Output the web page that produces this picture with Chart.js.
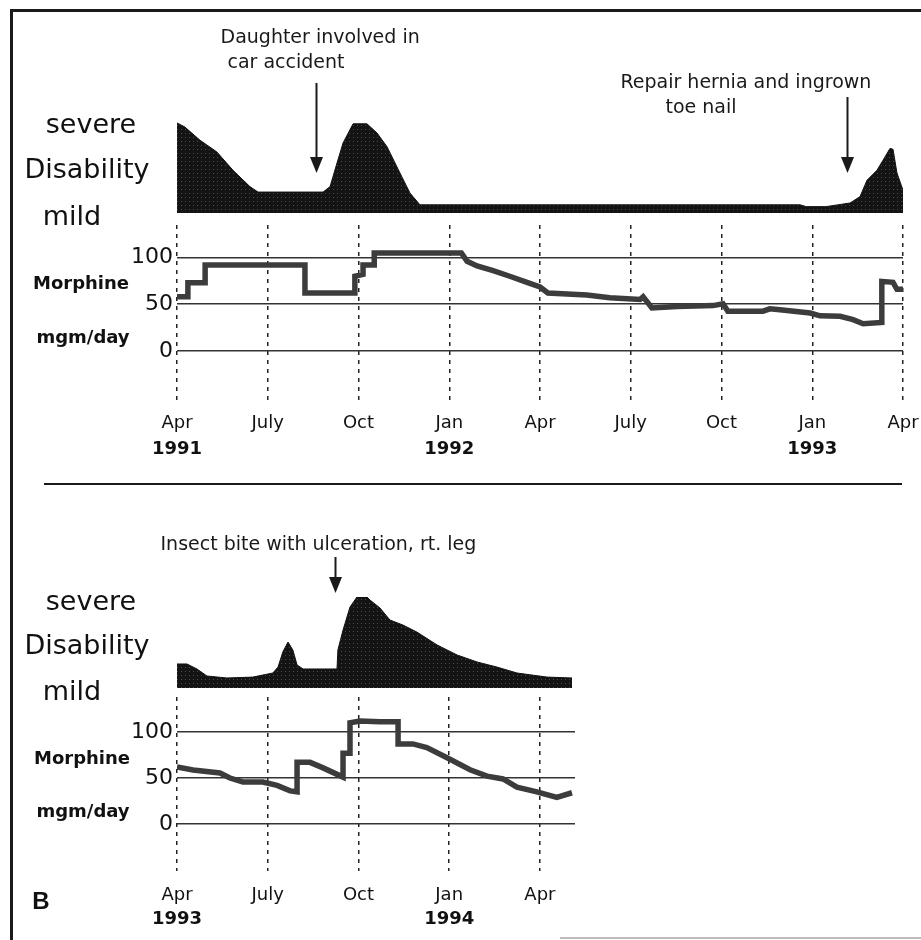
<!DOCTYPE html>
<html>
<head>
<meta charset="utf-8">
<script src="https://cdn.jsdelivr.net/npm/chart.js@4.4.1/dist/chart.umd.min.js"></script>
<style>
  body { margin: 0; background: #fff; }
  #page { position: relative; width: 921px; height: 940px; overflow: hidden; background: #fff; font-family: "DejaVu Sans", sans-serif; color: #111; }
  canvas { position: absolute; left: 0; }
  .lbl { position: absolute; transform: translate(-50%, -50%); white-space: nowrap; line-height: 1; }
  .big { font-size: 27px; }
  .unit { font-size: 18px; font-weight: bold; }
  .rule { position: absolute; background: #1a1a1a; }
</style>
</head>
<body>
<div id="page">
  <div class="rule" style="left:10px; top:9px; width:911px; height:3px;"></div>
  <div class="rule" style="left:10px; top:9px; width:3px; height:931px;"></div>
  <div class="rule" style="left:44px; top:483px; width:858px; height:2px;"></div>
  <div class="rule" style="left:560px; top:937px; width:361px; height:2px; background:#bbb;"></div>

  <canvas id="dis1" width="921" height="201" style="top:12px"></canvas>
  <canvas id="mor1" width="921" height="251" style="top:215px"></canvas>
  <canvas id="dis2" width="921" height="198" style="top:490px"></canvas>
  <canvas id="mor2" width="921" height="245" style="top:690px"></canvas>

  <div class="lbl big" style="left:91px; top:123px;">severe</div>
  <div class="lbl big" style="left:87px; top:168px;">Disability</div>
  <div class="lbl big" style="left:72px; top:215px;">mild</div>
  <div class="lbl unit" style="left:81px; top:283px;">Morphine</div>
  <div class="lbl unit" style="left:83px; top:337px;">mgm/day</div>

  <div class="lbl big" style="left:91px; top:600px;">severe</div>
  <div class="lbl big" style="left:87px; top:644px;">Disability</div>
  <div class="lbl big" style="left:72px; top:690px;">mild</div>
  <div class="lbl unit" style="left:82px; top:758px;">Morphine</div>
  <div class="lbl unit" style="left:83px; top:811px;">mgm/day</div>

  <div class="lbl" style="left:41px; top:901px; font:bold 24px 'Liberation Sans', sans-serif;">B</div>
</div>
<script>
// months counted from April of the first year of each panel
// --- panel 1: Apr 1991 - Apr 1993
const quarterMonths1 = [0, 3, 6, 9, 12, 15, 18, 21, 24];
const quarterLabels1 = ["Apr", "July", "Oct", "Jan", "Apr", "July", "Oct", "Jan", "Apr"];
const yearMonths1 = [0, 9, 21];
const yearLabels1 = ["1991", "1992", "1993"];

const disMonths1 = [0, 0.26, 0.76, 1.32, 1.85, 2.41, 2.68, 4.83, 5.06, 5.29, 5.49, 5.82, 6.28, 6.61, 6.94, 7.37, 7.7, 8.03, 20.6, 20.8, 21.45, 22.25, 22.58, 22.81, 23.14, 23.34, 23.57, 23.67, 23.8, 24];
const disValues1 = [9.9, 9.45, 8.0, 6.7, 4.7, 2.9, 2.3, 2.3, 2.9, 5.5, 7.7, 9.8, 9.8, 8.8, 7.3, 4.4, 2.2, 0.9, 0.9, 0.7, 0.7, 1.1, 1.8, 3.6, 4.7, 5.8, 7.1, 7.0, 4.4, 2.5];

const morMonths1 = [0, 0.36, 0.36, 0.93, 0.93, 4.23, 4.23, 5.88, 5.88, 6.15, 6.15, 6.52, 6.52, 9.4, 9.59, 9.92, 10.45, 11.0, 11.57, 12.0, 12.26, 13.55, 14.31, 15.31, 15.41, 15.7, 16.53, 17.72, 18.05, 18.21, 19.37, 19.6, 19.93, 20.93, 21.26, 21.92, 22.35, 22.68, 23.3, 23.3, 23.67, 23.8, 24];
const morValues1 = [58, 58, 73, 73, 92, 92, 62, 62, 80, 82, 92, 92, 105, 105, 96, 91, 86, 80, 73.5, 68.5, 62, 60, 57, 55, 58, 46, 47.5, 48.5, 50.5, 42.5, 42.5, 45, 44, 40.5, 37.5, 37, 33.5, 29, 30.5, 74.5, 73.5, 66, 66];

const eventMonths1 = [4.6, 22.15];
const eventLabels1 = [["Daughter involved in", "car accident"], ["Repair hernia and ingrown", "toe nail"]];

// --- panel 2: Apr 1993 - May 1994
const quarterMonths2 = [0, 3, 6, 9, 12];
const quarterLabels2 = ["Apr", "July", "Oct", "Jan", "Apr"];
const yearMonths2 = [0, 9];
const yearLabels2 = ["1993", "1994"];

const disMonths2 = [0, 0.33, 0.66, 0.99, 1.65, 2.51, 3.17, 3.34, 3.5, 3.67, 3.83, 3.97, 4.17, 5.29, 5.32, 5.49, 5.72, 5.95, 6.28, 6.38, 6.71, 7.04, 7.47, 7.93, 8.6, 9.26, 9.92, 10.58, 11.24, 12.23, 13.06];
const disValues2 = [2.64, 2.64, 2.09, 1.32, 1.1, 1.2, 1.65, 2.3, 3.96, 5.05, 4.18, 2.53, 2.09, 2.09, 4.18, 6.37, 8.9, 10, 10, 9.67, 8.8, 7.47, 6.92, 6.15, 4.73, 3.63, 2.86, 2.3, 1.65, 1.2, 1.1];

const morMonths2 = [0, 0.53, 1.42, 1.75, 2.18, 2.84, 3.31, 3.74, 3.97, 3.97, 4.4, 4.83, 5.49, 5.49, 5.72, 5.72, 6.05, 6.71, 7.31, 7.31, 7.8, 8.26, 8.93, 9.69, 10.25, 10.78, 11.24, 11.9, 12.56, 13.06];
const morValues2 = [62, 58.7, 55.4, 50, 45.7, 45.7, 42, 36, 35, 67, 67, 61, 51, 77, 77, 110, 112, 111, 111, 87, 87, 83, 72, 59, 52, 49, 40, 35, 29, 34];

const eventMonths2 = [5.22];
const eventLabels2 = [["Insect bite with ulceration, rt. leg"]];

const yTicks = [0, 50, 100];

Chart.defaults.font.family = "'DejaVu Sans', sans-serif";
Chart.defaults.color = "#111";
Chart.defaults.animation = false;

function toPoints(xs, ys) {
  return xs.map((m, i) => ({ x: m, y: ys[i] }));
}

// dark dithered fill like the old screen print
function ditherPattern() {
  const c = document.createElement("canvas");
  c.width = 4; c.height = 4;
  const g = c.getContext("2d");
  g.fillStyle = "#141414"; g.fillRect(0, 0, 4, 4);
  g.fillStyle = "#4a4a4a"; g.fillRect(1, 1, 1, 1);
  return g.createPattern(c, "repeat");
}

// arrows + note text above the disability strip
function arrowPlugin(months, labels, layout) {
  return {
    id: "arrows",
    afterDraw(chart) {
      const ctx = chart.ctx;
      const xs = chart.scales.x;
      ctx.save();
      ctx.fillStyle = "#1a1a1a";
      ctx.strokeStyle = "#1a1a1a";
      ctx.font = "19px 'DejaVu Sans'";
      ctx.textBaseline = "middle";
      months.forEach((m, i) => {
        const L = layout[i];
        const px = Math.round(xs.getPixelForValue(m)) + 0.5;
        ctx.lineWidth = 2;
        ctx.beginPath();
        ctx.moveTo(px, L.y0);
        ctx.lineTo(px, L.y1);
        ctx.stroke();
        ctx.beginPath();
        ctx.moveTo(px - 6.5, L.y1);
        ctx.lineTo(px + 6.5, L.y1);
        ctx.lineTo(px, L.y1 + 16);
        ctx.closePath();
        ctx.fill();
        labels[i].forEach((t, j) => ctx.fillText(t, px + L.dx[j], L.ty[j]));
      });
      ctx.restore();
    }
  };
}

function disabilityChart(id, xs, ys, xmax, padding, plugin) {
  new Chart(document.getElementById(id), {
    type: "line",
    data: {
      datasets: [{
        data: toPoints(xs, ys),
        borderColor: "#111",
        borderWidth: 1,
        backgroundColor: ditherPattern(),
        fill: "origin",
        pointRadius: 0,
        tension: 0
      }]
    },
    options: {
      responsive: false,
      layout: { padding: padding },
      plugins: { legend: { display: false }, tooltip: { enabled: false } },
      scales: {
        x: { type: "linear", min: 0, max: xmax, display: false },
        y: { min: 0, max: 10, display: false }
      }
    },
    plugins: [plugin]
  });
}

// fixed axis boxes so the plot area lands where the original has it
function fixHeight(h) {
  return s => { s.height = h; s.paddingLeft = 0; s.paddingRight = 0; };
}

function morphineChart(id, xs, ys, xmax, ymin, ymax, qMonths, qLabels, yMonths, yLabels, sizes) {
  new Chart(document.getElementById(id), {
    type: "line",
    data: {
      datasets: [{
        data: toPoints(xs, ys),
        xAxisID: "x",
        yAxisID: "y",
        borderColor: "#3c3c3c",
        borderWidth: 5.5,
        pointRadius: 0,
        tension: 0
      }]
    },
    options: {
      responsive: false,
      layout: { padding: sizes.padding },
      plugins: { legend: { display: false }, tooltip: { enabled: false } },
      scales: {
        x: {
          type: "linear", axis: "x", position: "bottom", weight: 0,
          min: 0, max: xmax,
          afterBuildTicks: a => { a.ticks = qMonths.map(v => ({ value: v })); },
          afterFit: fixHeight(sizes.monthH),
          ticks: {
            autoSkip: false, maxRotation: 0, padding: sizes.monthPad,
            font: { size: 18 },
            callback: (v, i) => qLabels[i]
          },
          grid: { color: "#222", lineWidth: 1.5, drawTicks: false },
          border: { display: false, dash: [4, 5] }
        },
        years: {
          type: "linear", axis: "x", position: "bottom", weight: 1,
          min: 0, max: xmax,
          afterBuildTicks: a => { a.ticks = yMonths.map(v => ({ value: v })); },
          afterFit: fixHeight(sizes.yearH),
          ticks: {
            autoSkip: false, maxRotation: 0, padding: sizes.yearPad,
            font: { size: 18, weight: "bold" },
            callback: (v, i) => yLabels[i]
          },
          grid: { display: false, drawTicks: false },
          border: { display: false }
        },
        y: {
          min: ymin, max: ymax,
          afterBuildTicks: a => { a.ticks = yTicks.map(v => ({ value: v })); },
          afterFit: s => { s.width = 177; s.paddingTop = 0; s.paddingBottom = 0; },
          ticks: { padding: 4, font: { size: 22 }, callback: v => String(v) },
          grid: { color: "#333", lineWidth: 1.5, drawTicks: false },
          border: { display: false }
        }
      }
    }
  });
}

// top panel
disabilityChart("dis1", disMonths1, disValues1, 24,
  { left: 177, right: 18, top: 110, bottom: 0 },
  arrowPlugin(eventMonths1, eventLabels1, [
    { y0: 71, y1: 145, dx: [-96, -89], ty: [26, 51] },
    { y0: 85, y1: 145, dx: [-227, -182], ty: [71, 96] }
  ]));
morphineChart("mor1", morMonths1, morValues1, 24, -56, 135,
  quarterMonths1, quarterLabels1, yearMonths1, yearLabels1,
  { padding: { left: 0, right: 18, top: 10, bottom: 0 }, monthH: 33, yearH: 30, monthPad: 10, yearPad: 3 });

// bottom panel
disabilityChart("dis2", disMonths2, disValues2, 13.06,
  { left: 177, right: 349, top: 107, bottom: 0 },
  arrowPlugin(eventMonths2, eventLabels2, [
    { y0: 67, y1: 87, dx: [-175], ty: [55] }
  ]));
morphineChart("mor2", morMonths2, morValues2, 13.16, -51, 138,
  quarterMonths2, quarterLabels2, yearMonths2, yearLabels2,
  { padding: { left: 0, right: 346, top: 7, bottom: 0 }, monthH: 34, yearH: 30, monthPad: 14, yearPad: 4 });
</script>
</body>
</html>
